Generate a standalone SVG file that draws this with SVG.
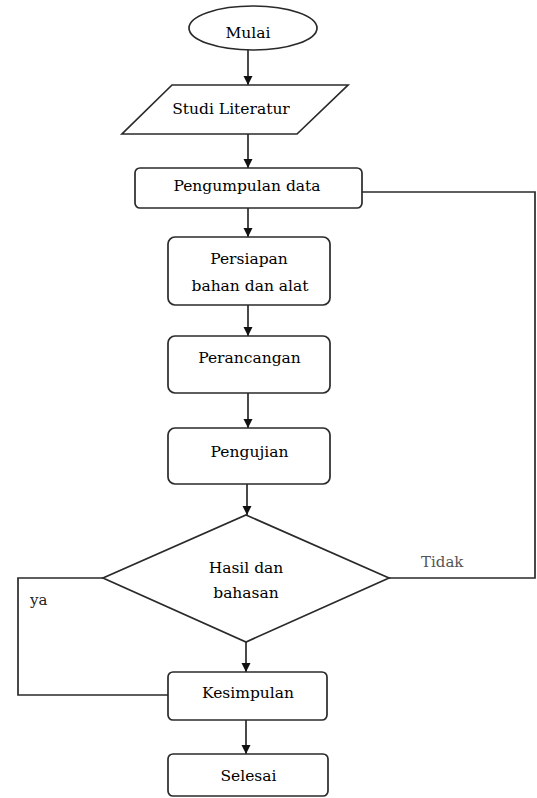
<svg xmlns="http://www.w3.org/2000/svg" width="537" height="798" viewBox="0 0 537 798">
<style>
.shape{fill:#fff;stroke:#2a2a2a;stroke-width:1.7}
.t{font-family:"DejaVu Serif","Liberation Serif",serif;font-size:15.5px;fill:#000;text-anchor:middle}
.lbl{font-family:"DejaVu Serif","Liberation Serif",serif;font-size:15px}
.c{fill:none;stroke:#2a2a2a;stroke-width:1.7}
</style>
<defs>
<marker id="a" markerUnits="userSpaceOnUse" markerWidth="10" markerHeight="10" refX="9" refY="5" orient="auto" viewBox="0 0 10 10">
<path d="M0,0.5 L9,5 L0,9.5 Z" fill="#111"/>
</marker>
</defs>
<g id="connectors">
<line class="c" x1="248" y1="50" x2="248" y2="85" marker-end="url(#a)"/>
<line class="c" x1="248" y1="134" x2="248" y2="168" marker-end="url(#a)"/>
<line class="c" x1="248" y1="208" x2="248" y2="237" marker-end="url(#a)"/>
<line class="c" x1="248" y1="305" x2="248" y2="336" marker-end="url(#a)"/>
<line class="c" x1="248" y1="393" x2="248" y2="428" marker-end="url(#a)"/>
<line class="c" x1="247" y1="484" x2="247" y2="515" marker-end="url(#a)"/>
<line class="c" x1="246" y1="642" x2="246" y2="672" marker-end="url(#a)"/>
<line class="c" x1="246" y1="720" x2="246" y2="754" marker-end="url(#a)"/>
<polyline class="c" points="362,192 535,192 535,578 389,578"/>
<polyline class="c" points="103,578 18,578 18,695 168,695"/>
<text class="lbl" x="421" y="567" fill="#555">Tidak</text>
<text class="lbl" x="30" y="605" fill="#222">ya</text>
</g>
<g id="mulai">
<ellipse class="shape" cx="253" cy="28" rx="64" ry="22"/>
<text class="t" x="248" y="38">Mulai</text>
</g>
<g id="studi">
<polygon class="shape" points="172,85 348,85 297,134 122,134"/>
<text class="t" x="231" y="114">Studi Literatur</text>
</g>
<g id="pengumpulan">
<rect class="shape" x="135" y="168" width="227" height="40" rx="5"/>
<text class="t" x="247" y="191">Pengumpulan data</text>
</g>
<g id="persiapan">
<rect class="shape" x="168" y="237" width="162" height="68" rx="7"/>
<text class="t" x="249" y="264">Persiapan</text>
<text class="t" x="250" y="291">bahan dan alat</text>
</g>
<g id="perancangan">
<rect class="shape" x="168" y="336" width="162" height="57" rx="7"/>
<text class="t" x="249.5" y="363">Perancangan</text>
</g>
<g id="pengujian">
<rect class="shape" x="168" y="428" width="162" height="56" rx="7"/>
<text class="t" x="249.5" y="457">Pengujian</text>
</g>
<g id="hasil">
<polygon class="shape" points="246,515 389,578 246,642 103,578"/>
<text class="t" x="246" y="573">Hasil dan</text>
<text class="t" x="246" y="598">bahasan</text>
</g>
<g id="kesimpulan">
<rect class="shape" x="168" y="672" width="159" height="48" rx="5"/>
<text class="t" x="248" y="698">Kesimpulan</text>
</g>
<g id="selesai">
<rect class="shape" x="168" y="754" width="160" height="42" rx="5"/>
<text class="t" x="248.5" y="781">Selesai</text>
</g>
</svg>
